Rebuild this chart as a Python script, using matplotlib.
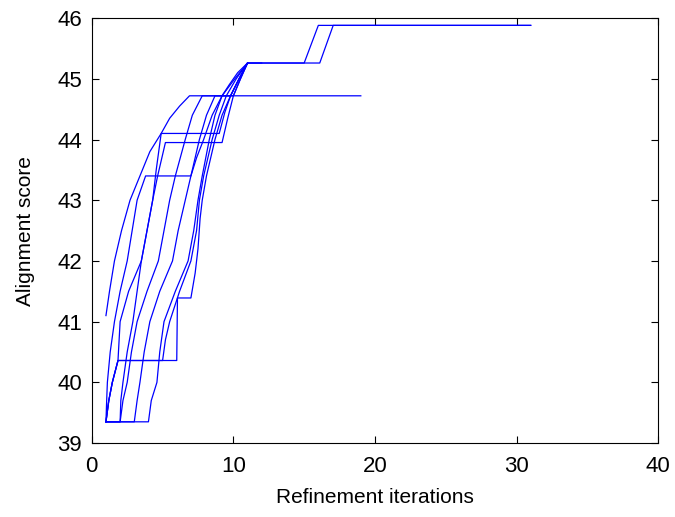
import matplotlib
matplotlib.use("Agg")
import matplotlib.pyplot as plt

# Each run: iteration (x) and alignment score (y)
run_a_x = [1, 1.25, 1.6, 2.1, 2.7, 3.4, 4.1, 4.9, 5.5, 6.2, 6.9, 19]
run_a_y = [41.1, 41.5, 42.0, 42.5, 43.0, 43.4, 43.8, 44.1, 44.35, 44.55, 44.72, 44.72]

run_b_x = [1, 1.05, 1.1, 1.3, 1.6, 2.0, 2.5, 2.85, 3.2, 3.8, 7.0, 7.4, 7.9, 8.5, 9.2, 10.1, 11.0, 15.0, 16.0, 31]
run_b_y = [39.35, 39.7, 40.0, 40.5, 41.0, 41.5, 42.0, 42.5, 43.0, 43.4, 43.4, 43.7, 44.0, 44.4, 44.72, 45.0, 45.26, 45.26, 45.88, 45.88]

run_c_x = [1, 1.2, 1.45, 1.85, 2.0, 2.6, 3.5, 3.9, 4.3, 4.65, 5.2, 9.2, 9.6, 10.0, 10.5, 11.0, 16.1, 17.05, 31]
run_c_y = [39.35, 39.7, 40.0, 40.36, 41.0, 41.5, 42.0, 42.5, 43.0, 43.4, 43.95, 43.95, 44.35, 44.72, 45.0, 45.26, 45.26, 45.88, 45.88]

run_d_x = [1, 2.0, 2.05, 2.2, 2.5, 2.9, 3.2, 3.5, 3.9, 4.3, 4.55, 4.9, 9.0, 9.4, 9.8, 10.4, 11.0, 12.0]
run_d_y = [39.35, 39.35, 39.7, 40.0, 40.5, 41.0, 41.5, 42.0, 42.5, 43.0, 43.5, 44.1, 44.1, 44.45, 44.72, 45.0, 45.26, 45.26]

run_e_x = [1, 2.0, 2.2, 2.5, 2.8, 3.2, 3.9, 4.7, 5.1, 5.5, 5.9, 6.6, 7.1, 7.8, 9.8, 10.4, 11.0]
run_e_y = [39.35, 39.35, 39.7, 40.0, 40.5, 41.0, 41.5, 42.0, 42.5, 43.0, 43.4, 44.0, 44.4, 44.72, 44.72, 45.0, 45.26]

run_f_x = [1, 3.0, 3.2, 3.4, 3.7, 4.1, 4.8, 5.7, 6.1, 6.6, 7.0, 7.6, 8.1, 8.7, 10.0, 10.5, 11.0]
run_f_y = [39.35, 39.35, 39.7, 40.0, 40.5, 41.0, 41.5, 42.0, 42.5, 43.0, 43.4, 44.0, 44.4, 44.72, 44.72, 45.0, 45.26]

run_g_x = [1, 4.0, 4.2, 4.6, 4.8, 5.1, 5.9, 6.8, 7.2, 7.5, 7.8, 8.3, 8.7, 9.2, 9.7, 10.3, 11.0]
run_g_y = [39.35, 39.35, 39.7, 40.0, 40.5, 41.0, 41.5, 42.0, 42.5, 43.0, 43.4, 44.0, 44.4, 44.72, 44.9, 45.1, 45.26]

run_h_x = [1, 1.2, 1.45, 1.85, 5.0, 5.2, 5.5, 6.2, 7.0, 7.4, 7.6, 7.9, 8.5, 9.0, 9.5, 10.2, 11.0]
run_h_y = [39.35, 39.7, 40.0, 40.36, 40.36, 40.7, 41.0, 41.5, 42.0, 42.5, 43.0, 43.4, 44.0, 44.4, 44.72, 45.0, 45.26]

run_i_x = [1, 1.2, 1.45, 1.85, 6.0, 6.05, 7.0, 7.3, 7.5, 7.65, 7.8, 8.1, 8.7, 9.2, 9.8, 10.4, 11.0]
run_i_y = [39.35, 39.7, 40.0, 40.36, 40.36, 41.39, 41.39, 41.8, 42.2, 42.7, 43.0, 43.4, 44.0, 44.4, 44.72, 45.0, 45.26]

runs = [(run_a_x, run_a_y), (run_b_x, run_b_y), (run_c_x, run_c_y),
        (run_d_x, run_d_y), (run_e_x, run_e_y), (run_f_x, run_f_y),
        (run_g_x, run_g_y), (run_h_x, run_h_y), (run_i_x, run_i_y)]

x_ticks = [0, 10, 20, 30, 40]
y_ticks = [39, 40, 41, 42, 43, 44, 45, 46]

plt.rcParams['font.family'] = ['Liberation Sans', 'DejaVu Sans']

fig = plt.figure(figsize=(6.75, 5.17), dpi=100)
ax = fig.add_axes([0.136, 0.143, 0.839, 0.822])
for xs, ys in runs:
    ax.plot(xs, ys, color=(0, 0, 1), linewidth=0.9)

ax.set_xlim(0, 40)
ax.set_ylim(39, 46)
ax.set_xticks(x_ticks)
ax.set_yticks(y_ticks)
ax.tick_params(direction='in', top=True, right=True, length=5, width=0.8,
               labelsize=16)
ax.tick_params(axis='x', pad=9)
ax.tick_params(axis='y', pad=7)
for s in ax.spines.values():
    s.set_linewidth(0.8)
ax.set_xlabel('Refinement iterations', fontsize=15, labelpad=8)
ax.set_ylabel('Alignment score', fontsize=15, labelpad=16)

fig.savefig('out.png', dpi=100)
